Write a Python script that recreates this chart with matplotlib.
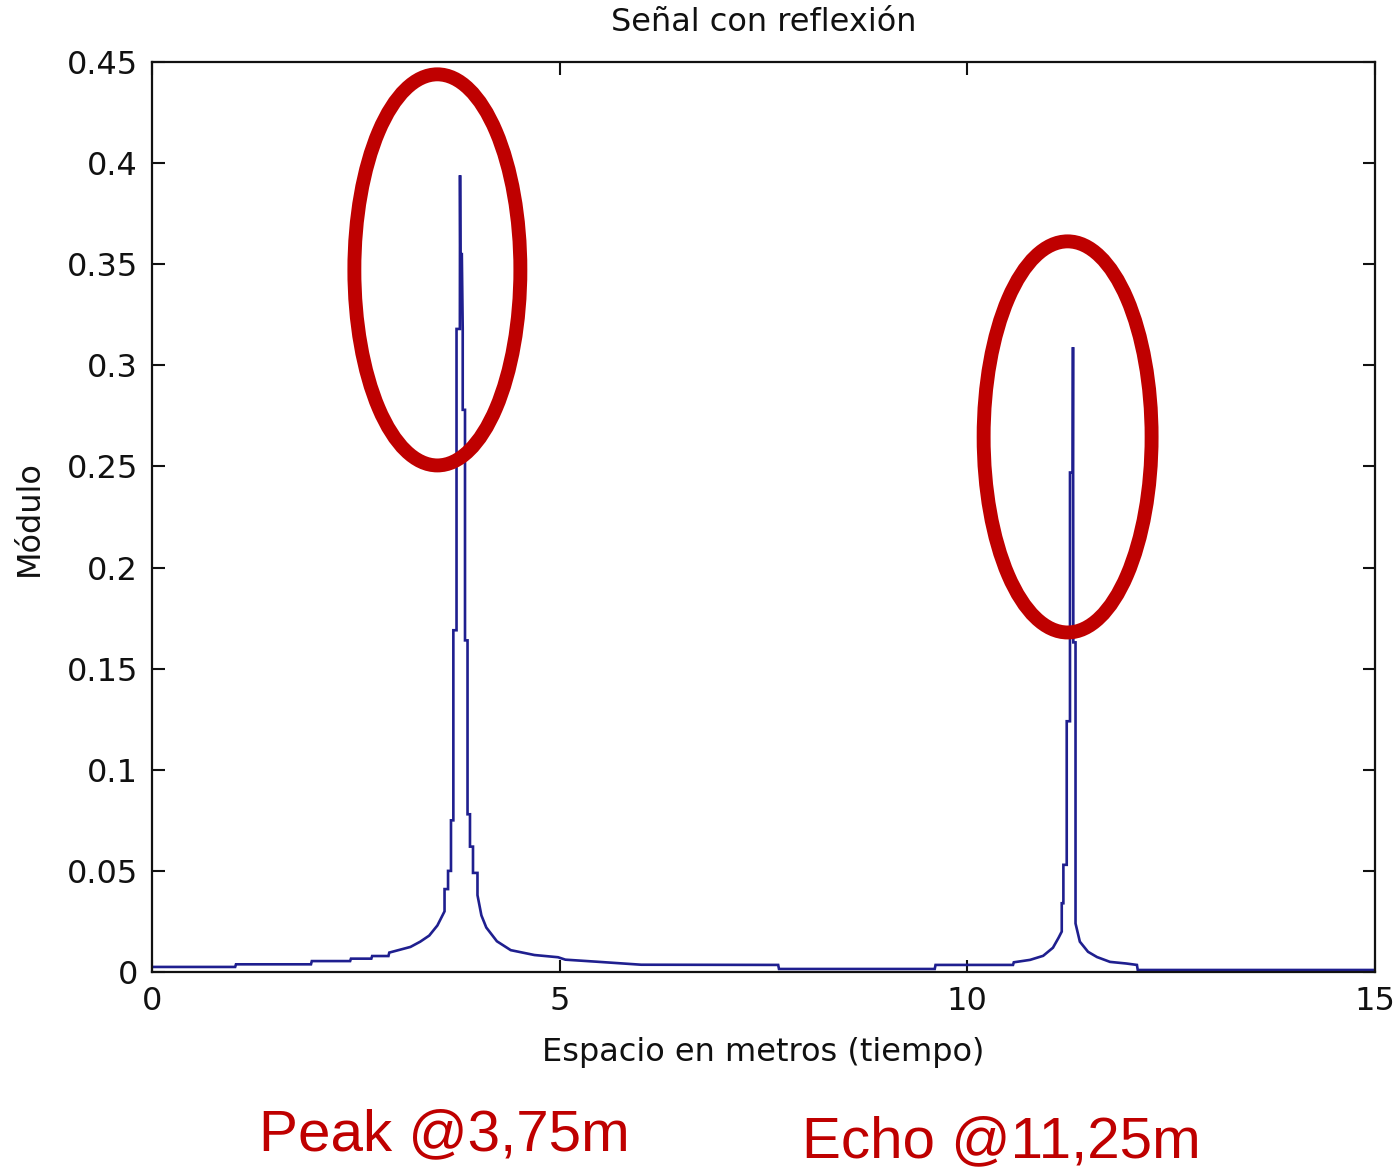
import matplotlib
matplotlib.use("Agg")
import matplotlib.pyplot as plt
from matplotlib.patches import Ellipse

plt.rcParams['font.family'] = ['DejaVu Sans']

# Signal samples (distance in m, modulus)
distance_m = [0.00, 1.02, 1.03, 1.95, 1.96, 2.43, 2.44, 2.69, 2.70, 2.90, 2.91,
              3.17, 3.29, 3.40, 3.50,
              3.588, 3.588, 3.631, 3.631, 3.667, 3.667, 3.696, 3.696, 3.735, 3.735,
              3.776, 3.778, 3.782, 3.800, 3.811, 3.811, 3.839, 3.839, 3.870, 3.870,
              3.900, 3.900, 3.937, 3.937, 3.992, 3.992,
              4.04, 4.10, 4.23, 4.40, 4.69, 4.98, 5.07, 5.45, 6.00, 7.68, 7.69,
              9.60, 9.61, 10.56, 10.57, 10.77, 10.93, 11.05, 11.12,
              11.158, 11.158, 11.178, 11.178, 11.219, 11.219, 11.259, 11.259,
              11.292, 11.296, 11.300, 11.327, 11.327,
              11.38, 11.48, 11.59, 11.75, 11.95, 12.08, 12.09, 15.00]
modulo = [0.0025, 0.0025, 0.0038, 0.0038, 0.0054, 0.0054, 0.0066, 0.0066, 0.0079, 0.0079, 0.0096,
          0.0124, 0.0150, 0.0180, 0.0230,
          0.030, 0.041, 0.041, 0.050, 0.050, 0.075, 0.075, 0.169, 0.169, 0.318,
          0.318, 0.394, 0.355, 0.355, 0.318, 0.278, 0.278, 0.164, 0.164, 0.078,
          0.078, 0.062, 0.062, 0.049, 0.049, 0.038,
          0.028, 0.022, 0.0152, 0.0108, 0.0084, 0.0073, 0.0061, 0.0051, 0.0036, 0.0035, 0.0015,
          0.0015, 0.0035, 0.0035, 0.0048, 0.0060, 0.0080, 0.0120, 0.0170,
          0.020, 0.034, 0.034, 0.053, 0.053, 0.124, 0.124, 0.247,
          0.247, 0.309, 0.163, 0.163, 0.024,
          0.015, 0.010, 0.0074, 0.0050, 0.0042, 0.0035, 0.0010, 0.0010]

x_ticks = [0, 5, 10, 15]
y_ticks = [0, 0.05, 0.1, 0.15, 0.2, 0.25, 0.3, 0.35, 0.4, 0.45]
y_tick_labels = ['0', '0.05', '0.1', '0.15', '0.2', '0.25', '0.3', '0.35', '0.4', '0.45']

title = 'Señal con reflexión'
x_label = 'Espacio en metros (tiempo)'
y_label = 'Módulo'
peak_note = 'Peak @3,75m'
echo_note = 'Echo @11,25m'

W, H = 1400, 1171
fig = plt.figure(figsize=(W / 100, H / 100), dpi=100)
ax = fig.add_axes([152 / W, 1 - 972 / H, 1223 / W, 910 / H])

ax.plot(distance_m, modulo, color='#1f1f8f', lw=1.9, solid_joinstyle='miter')

ax.set_xlim(0, 15)
ax.set_ylim(0, 0.45)
ax.set_xticks(x_ticks)
ax.set_yticks(y_ticks)
ax.set_yticklabels(y_tick_labels)
ax.tick_params(direction='in', length=9, width=1.5, labelsize=23,
               top=True, right=True, pad=10, colors='#111111')
for s in ax.spines.values():
    s.set_linewidth(1.6)
    s.set_color('#111111')

ax.set_title(title, fontsize=23, pad=22, color='#111111')
ax.set_xlabel(x_label, fontsize=23, color='#111111')
ax.set_ylabel(y_label, fontsize=23, color='#111111')
ax.xaxis.set_label_coords(0.5, -0.071)
ax.yaxis.set_label_coords(-0.0875, 0.499)

red = '#bf0000'
for cx, cy, w, h in [(3.50, 0.3472, 2.036, 0.1934), (11.23, 0.2646, 2.06, 0.1934)]:
    ax.add_patch(Ellipse((cx, cy), w, h, fill=False, edgecolor=red, lw=10,
                         clip_on=False, zorder=5))

fig.text(444.5 / W, 1 - 1150 / H, peak_note, color=red, fontsize=42,
         ha='center', va='baseline', family=['Liberation Sans', 'DejaVu Sans'])
fig.text(1001.5 / W, 1 - 1157 / H, echo_note, color=red, fontsize=42,
         ha='center', va='baseline', family=['Liberation Sans', 'DejaVu Sans'])

fig.savefig('out.png', dpi=100, facecolor='white')
